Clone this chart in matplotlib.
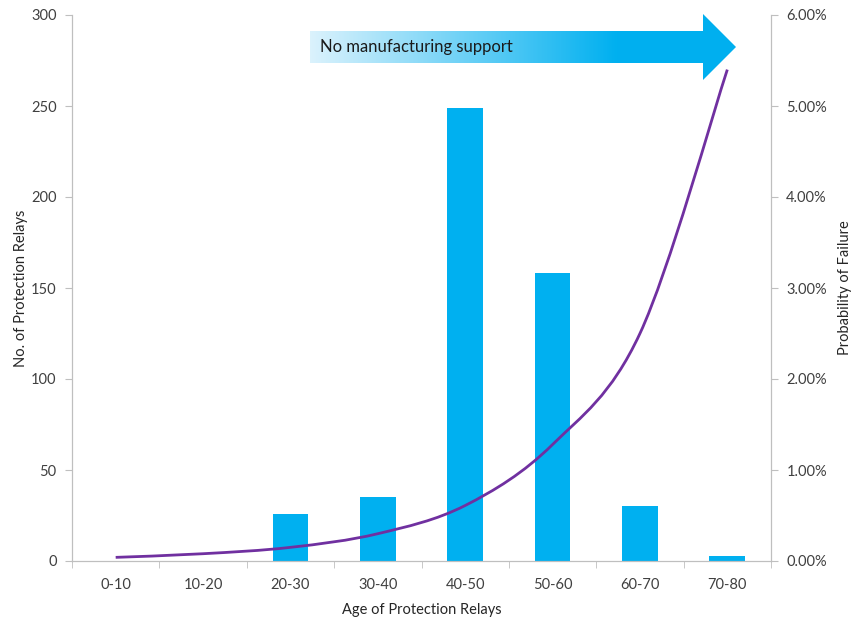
import numpy as np
import matplotlib
matplotlib.use('Agg')
from matplotlib import pyplot as plt
from matplotlib.path import Path
from matplotlib.patches import PathPatch, Polygon
from matplotlib.ticker import FuncFormatter, FixedLocator

plt.rcParams['font.family'] = ['Lato', 'DejaVu Sans']

ages = ['0-10', '10-20', '20-30', '30-40', '40-50', '50-60', '60-70', '70-80']
relays = [0, 0, 26, 35, 249, 158, 30, 3]
prob_fail = [0.0004, 0.0008, 0.0015, 0.0030, 0.0061, 0.0128, 0.0250, 0.0540]

bar_col = '#00B0F0'
line_col = '#7030A0'
grey = '#BFBFBF'
txt = '#404040'

def smooth_path(xs, ys):
    # excel style smoothed line: catmull-rom turned into bezier segments
    xs = np.asarray(xs, float); ys = np.asarray(ys, float)
    n = len(xs)
    verts = [(xs[0], ys[0])]
    codes = [Path.MOVETO]
    for i in range(n - 1):
        x0, y0 = (xs[i-1], ys[i-1]) if i > 0 else (xs[i], ys[i])
        x3, y3 = (xs[i+2], ys[i+2]) if i + 2 < n else (xs[i+1], ys[i+1])
        x1, y1 = xs[i], ys[i]
        x2, y2 = xs[i+1], ys[i+1]
        c1 = (x1 + (x2 - x0) / 6, y1 + (y2 - y0) / 6)
        c2 = (x2 - (x3 - x1) / 6, y2 - (y3 - y1) / 6)
        verts += [c1, c2, (x2, y2)]
        codes += [Path.CURVE4] * 3
    return Path(verts, codes)

fig = plt.figure(figsize=(8.51, 6.19), dpi=100)
ax = fig.add_axes([72/851, 58/619, 699/851, 546/619])
x = np.arange(len(ages))
ax.bar(x, relays, width=0.41, color=bar_col, zorder=2)
ax.set_xlim(-0.5, len(ages) - 0.5)
ax.set_ylim(0, 300)
ax.set_yticks(range(0, 301, 50))
ax.set_xticks(x)
ax.set_xticklabels(ages)
ax.xaxis.set_minor_locator(FixedLocator(np.arange(-0.5, len(ages), 1.0)))
ax.tick_params(axis='x', which='major', length=0, pad=12, labelsize=10.5, labelcolor=txt)
ax.tick_params(axis='x', which='minor', length=5, color=grey, direction='out')
ax.tick_params(axis='y', length=5, color=grey, labelsize=10.5, labelcolor=txt, pad=6)
ax.spines['top'].set_visible(False)
for s in ['left', 'bottom', 'right']:
    ax.spines[s].set_color(grey)
ax.set_xlabel('Age of Protection Relays', fontsize=10.5, color='#262626', labelpad=8)
ax.set_ylabel('No. of Protection Relays', fontsize=10.5, color='#262626', labelpad=2)

ax2 = ax.twinx()
ax2.set_ylim(0, 0.06)
ax2.set_yticks(np.arange(0, 0.061, 0.01))
ax2.yaxis.set_major_formatter(FuncFormatter(lambda v, p: '%.2f%%' % (v * 100)))
ax2.tick_params(axis='y', length=5, color=grey, labelsize=10.5, labelcolor=txt, pad=6)
ax2.spines['top'].set_visible(False)
for s in ['left', 'bottom', 'right']:
    ax2.spines[s].set_color(grey)
ax2.set_ylabel('Probability of Failure', fontsize=10.5, color='#262626', labelpad=8)
ax2.add_patch(PathPatch(smooth_path(x, prob_fail), facecolor='none',
                        edgecolor=line_col, lw=2, zorder=3))

# gradient arrow on top, in pixel coords
ov = fig.add_axes([0, 0, 1, 1], facecolor='none')
ov.set_xlim(0, 851); ov.set_ylim(619, 0); ov.axis('off')
arrow = Polygon([(310, 31), (703, 31), (703, 14), (736, 47), (703, 80),
                 (703, 63), (310, 63)], closed=True, facecolor='none', edgecolor='none')
ov.add_patch(arrow)
gx = np.linspace(0, 1, 400)
c0 = np.array([0.86, 0.95, 0.99]); c1 = np.array([0.0, 0.69, 0.94])
t = np.clip(gx / 0.72, 0, 1)
grad = (c0[None, :] * (1 - t[:, None]) + c1[None, :] * t[:, None])[None, :, :]
im = ov.imshow(grad, extent=(310, 736, 80, 14), aspect='auto', zorder=5)
im.set_clip_path(arrow)
ov.text(320, 47, 'No manufacturing support', fontsize=12, color='#1a1a1a',
        va='center', ha='left', zorder=6)

fig.savefig('out.png', dpi=100)
